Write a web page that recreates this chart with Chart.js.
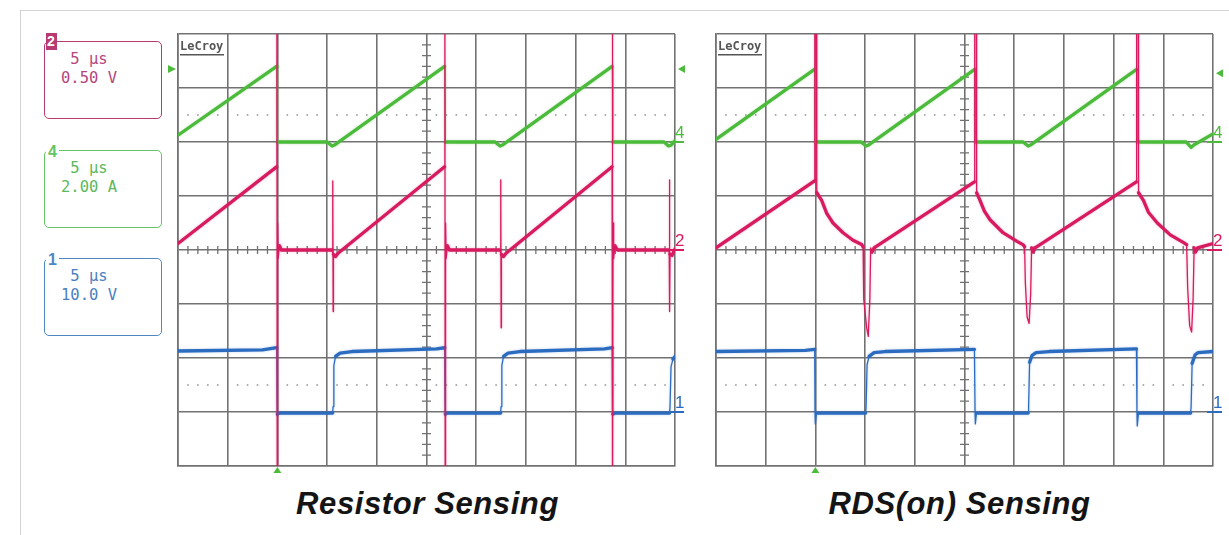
<!DOCTYPE html>
<html>
<head>
<meta charset="utf-8">
<script src="https://cdn.jsdelivr.net/npm/chart.js@4.4.1/dist/chart.umd.min.js"></script>
<style>
  html, body { margin: 0; padding: 0; background: #fff; }
  body { width: 1229px; height: 535px; position: relative; overflow: hidden; }
  #frame { position: absolute; left: 20px; top: 10px; width: 1400px; height: 700px;
           border-left: 1px solid #d2d2d2; border-top: 1px solid #d2d2d2; }
  .panel { position: absolute; top: 0; }
  .chbox { position: absolute; left: 44px; width: 118px; height: 78px; box-sizing: border-box;
           border: 1.5px solid; border-radius: 5px; background: #fff;
           font-family: "DejaVu Sans Mono", monospace; font-size: 15.5px; }
  .chbox .l { position: absolute; left: 0; width: 88px; text-align: center; line-height: 18px; white-space: pre; }
  .chbox .n { position: absolute; font-family: "Liberation Sans", sans-serif; font-weight: bold;
              font-size: 15px; line-height: 16px; text-align: center; }
  .title { position: absolute; top: 488px; width: 497px; text-align: center;
           font: italic bold 31px "Liberation Sans", Arial, sans-serif; line-height: 31px;
           color: #141414; letter-spacing: 0.6px; white-space: nowrap; }
</style>
</head>
<body>
<div id="frame"></div>
<div id="legend"></div>
<canvas id="c1" class="panel" width="550" height="480" style="left:150px"></canvas>
<canvas id="c2" class="panel" width="529" height="480" style="left:700px"></canvas>
<div class="title" id="t1" style="left:179px"></div>
<div class="title" id="t2" style="left:711px"></div>
<script>
// ---- channel settings (scope vertical setup) ----
const chNumbers   = [2, 4, 1];
const chTimeDiv   = ['5 µs', '5 µs', '5 µs'];
const chScaleText = ['0.50 V', '2.00 A', '10.0 V'];
const chPerDiv    = [0.5, 2, 10];     // units per division
const chGroundDiv = [0, 2, -3];       // ground marker position, divisions from centre
const panelTitles = ['Resistor Sensing', 'RDS(on) Sensing'];
const triggerTimes  = [10, 10];       // µs
const triggerLevels = [2.7, 2.55];    // A, channel 4

// ---- Resistor sensing captures: [time µs, value] ----
const resistorCh4 = [ // A
  [0, 0.25], [9.92, 2.80], [9.97, 2.80], [10.00, 0.00], [15.00, 0.00], [15.50, -0.15], [15.80, -0.10],
  [26.82, 2.80], [26.86, 2.80], [26.90, 0.00], [31.90, 0.00], [32.40, -0.15], [32.70, -0.10],
  [43.67, 2.80], [43.71, 2.80], [43.75, 0.00], [48.90, 0.00], [49.35, -0.15], [49.60, -0.12], [50.00, 0.05]
];
const resistorCh2 = [ // V
  [0, 0.06], [9.92, 0.77], [9.95, 2.50], [9.98, -2.50], [10.02, 0.25], [10.08, -0.08], [10.20, 0.04], [10.40, 0.00],
  [15.50, 0.00], [15.56, -0.03], [15.58, 0.64], [15.61, -0.57], [15.64, -0.04], [15.85, -0.06], [16.10, -0.03],
  [26.82, 0.77], [26.85, 2.50], [26.88, -2.50], [26.92, 0.25], [26.98, -0.08], [27.10, 0.04], [27.30, 0.00],
  [32.40, 0.00], [32.46, -0.03], [32.48, 0.65], [32.51, -0.72], [32.54, -0.04], [32.75, -0.06], [33.00, -0.03],
  [43.67, 0.77], [43.70, 2.50], [43.73, -2.50], [43.77, 0.25], [43.83, -0.08], [43.95, 0.04], [44.20, 0.00],
  [49.35, 0.00], [49.42, -0.03], [49.44, 0.65], [49.47, -0.57], [49.50, -0.04], [49.70, -0.05], [50.00, 0.01]
];
const resistorCh1 = [ // V
  [0, 11.3], [8.50, 11.5], [9.94, 11.9], [9.97, 3.0], [9.99, -0.4], [10.20, -0.2], [15.56, -0.2],
  [15.60, 1.0], [15.68, 8.6], [15.85, 10.3], [16.30, 10.9], [17.50, 11.2], [26.00, 11.7], [26.84, 11.9],
  [26.87, 3.0], [26.89, -0.4], [27.10, -0.2], [32.46, -0.2], [32.50, 1.0], [32.58, 8.6], [32.75, 10.3],
  [33.20, 10.9], [34.40, 11.2], [42.90, 11.7], [43.69, 11.9], [43.72, 3.0], [43.74, -0.4], [44.00, -0.2],
  [49.45, -0.2], [49.50, 1.0], [49.60, 8.4], [49.80, 9.8], [50.00, 10.3]
];

// ---- RDS(on) sensing captures: [time µs, value] ----
const rdsCh4 = [ // A
  [0, 0.10], [9.90, 2.69], [9.96, 2.69], [10.00, 0.00], [14.60, 0.00], [15.10, -0.15], [15.40, -0.10],
  [26.02, 2.69], [26.06, 2.69], [26.10, 0.00], [30.90, 0.00], [31.40, -0.15], [31.70, -0.10],
  [42.31, 2.69], [42.35, 2.69], [42.39, 0.00], [47.30, 0.00], [47.80, -0.20], [48.10, -0.10], [50.00, 0.30]
];
const rdsCh2 = [ // V
  [0, 0.02], [9.92, 0.64], [9.94, 2.40], [10.10, 2.40], [10.14, 0.53], [10.63, 0.46], [11.14, 0.34],
  [11.77, 0.25], [12.78, 0.16], [13.78, 0.09], [14.66, 0.05], [14.80, 0.03], [14.86, -0.45], [15.16, -0.72],
  [15.32, -0.80], [15.48, -0.45], [15.56, 0.02], [15.70, -0.02], [15.90, 0.02],
  [26.00, 0.63], [26.03, 2.40], [26.18, 2.40], [26.22, 0.53], [26.56, 0.46], [27.00, 0.36], [27.57, 0.28],
  [28.87, 0.16], [30.28, 0.08], [30.88, 0.05], [31.05, 0.03], [31.12, -0.30], [31.30, -0.62], [31.50, -0.68],
  [31.66, -0.40], [31.75, 0.02], [31.90, -0.02], [32.10, 0.02],
  [42.29, 0.63], [42.32, 2.40], [42.47, 2.40], [42.51, 0.53], [43.00, 0.46], [43.50, 0.35], [44.40, 0.25],
  [45.70, 0.14], [47.00, 0.07], [47.35, 0.05], [47.45, -0.35], [47.65, -0.70], [47.85, -0.76], [48.00, -0.45],
  [48.10, 0.02], [48.25, -0.02], [48.45, 0.02], [50.00, 0.06]
];
const rdsCh1 = [ // V
  [0, 11.2], [9.00, 11.4], [9.93, 11.6], [9.96, 0.0], [9.99, -2.2], [10.10, -0.2], [15.05, -0.2],
  [15.10, 1.0], [15.20, 8.8], [15.40, 10.3], [15.90, 11.0], [17.00, 11.2], [26.00, 11.6],
  [26.06, 0.0], [26.09, -2.2], [26.20, -0.2], [31.40, -0.2], [31.45, 1.0], [31.55, 9.2], [31.80, 10.5],
  [32.20, 11.0], [33.50, 11.2], [42.30, 11.7], [42.35, 0.0], [42.38, -2.6], [42.50, -0.2], [47.75, -0.2],
  [47.80, 1.0], [47.90, 9.0], [48.20, 10.6], [48.50, 11.0], [50.00, 11.2]
];

// ---- styling ----
const GRID = '#727272';
const traceColor = { 2: '#d81b60', 4: '#4cbb3c', 1: '#2c6cc0' };
const haloColor  = { 2: 'rgba(216,27,96,0.30)', 4: 'rgba(76,187,60,0.30)', 1: 'rgba(44,108,192,0.30)' };
const boxBorder  = { 2: '#b83a72', 4: '#66c466', 1: '#4f86c4' };
const boxText    = { 2: '#b5467e', 4: '#5cb85c', 1: '#4a7fbf' };
const boxTop     = { 2: 41, 4: 150, 1: 258 };

// channel info boxes on the left
const legend = document.getElementById('legend');
chNumbers.forEach((n, i) => {
  const b = document.createElement('div');
  b.className = 'chbox';
  b.style.top = boxTop[n] + 'px';
  b.style.borderColor = boxBorder[n];
  b.style.color = boxText[n];
  const l1 = document.createElement('div'); l1.className = 'l'; l1.style.top = '8px'; l1.textContent = chTimeDiv[i];
  const l2 = document.createElement('div'); l2.className = 'l'; l2.style.top = '27px'; l2.textContent = chScaleText[i];
  const nb = document.createElement('div'); nb.className = 'n'; nb.textContent = String(n);
  if (n === 2) {
    Object.assign(nb.style, { left: '0.5px', top: '-9.5px', width: '11px', height: '17px', lineHeight: '17px',
      background: boxBorder[n], color: '#fff', fontSize: '14px' });
  } else {
    Object.assign(nb.style, { left: '1px', top: '-7px', width: '13px', height: '16px',
      background: '#fff', color: boxBorder[n], fontSize: '16px' });
  }
  b.append(l1, l2, nb);
  legend.appendChild(b);
});
document.getElementById('t1').textContent = panelTitles[0];
document.getElementById('t2').textContent = panelTitles[1];

// graticule extras, markers and labels
const scopeExtras = {
  id: 'scopeExtras',
  beforeDatasetsDraw(chart, args, opts) {
    const { ctx, chartArea: a, scales } = chart;
    const x = scales.x, d = scales.div;
    const y0 = d.getPixelForValue(0);
    const xc = x.getPixelForValue(25);
    ctx.save();
    ctx.strokeStyle = GRID;
    ctx.lineWidth = 1.3;
    ctx.beginPath();
    for (let t = 1; t < 50; t++) {
      if (t % 5 === 0) continue;
      const px = x.getPixelForValue(t);
      ctx.moveTo(px, y0 - 4); ctx.lineTo(px, y0 + 4);
    }
    for (let k = -19; k <= 19; k++) {
      if (k % 5 === 0) continue;
      const py = d.getPixelForValue(k / 5);
      ctx.moveTo(xc - 4.5, py); ctx.lineTo(xc + 4.5, py);
    }
    ctx.stroke();
    ctx.fillStyle = '#9a9a9a';
    for (const lv of [2.5, -2.5]) {
      const py = d.getPixelForValue(lv);
      for (let t = 1; t < 50; t++) {
        if (t % 5 === 0) continue;
        const px = x.getPixelForValue(t);
        ctx.fillRect(px - 0.8, py - 0.8, 1.6, 1.6);
      }
    }
    ctx.fillStyle = '#555';
    ctx.font = 'bold 12px "DejaVu Sans Mono", monospace';
    ctx.textBaseline = 'alphabetic';
    ctx.fillText('LeCroy', a.left + 2, a.top + 16);
    ctx.fillRect(a.left + 2, a.top + 20, 44, 1.5);
    ctx.restore();
  },
  beforeDatasetDraw(chart, args) {
    const ds = chart.data.datasets[args.index];
    chart.ctx.save();
    chart.ctx.shadowColor = ds.halo;
    chart.ctx.shadowBlur = 2.5;
  },
  afterDatasetDraw(chart) {
    chart.ctx.restore();
  },
  afterDraw(chart, args, opts) {
    const { ctx, chartArea: a, scales } = chart;
    ctx.save();
    // channel ground markers with channel numbers
    chNumbers.forEach(n => {
      const gy = scales['y' + n].getPixelForValue(0);
      ctx.strokeStyle = traceColor[n];
      ctx.lineWidth = 2;
      ctx.beginPath(); ctx.moveTo(a.right - 6, gy); ctx.lineTo(a.right + 9, gy); ctx.stroke();
      ctx.fillStyle = traceColor[n];
      ctx.font = '17px "Liberation Sans Narrow", "Liberation Sans", sans-serif';
      ctx.textBaseline = 'alphabetic';
      ctx.fillText(String(n), a.right, gy - 4);
    });
    // trigger level (channel 4) and trigger position
    const ty = scales.y4.getPixelForValue(opts.trigLevel);
    ctx.fillStyle = '#4cbb3c';
    ctx.beginPath();
    ctx.moveTo(a.right + 10, ty - 4); ctx.lineTo(a.right + 3, ty); ctx.lineTo(a.right + 10, ty + 4); ctx.closePath(); ctx.fill();
    if (opts.leftArrow) {
      ctx.beginPath();
      ctx.moveTo(a.left - 10, ty - 4); ctx.lineTo(a.left - 2, ty); ctx.lineTo(a.left - 10, ty + 4); ctx.closePath(); ctx.fill();
    }
    const tx = scales.x.getPixelForValue(opts.trigTime);
    ctx.beginPath();
    ctx.moveTo(tx - 4, a.bottom + 7); ctx.lineTo(tx, a.bottom + 1); ctx.lineTo(tx + 4, a.bottom + 7); ctx.closePath(); ctx.fill();
    ctx.restore();
  }
};

// steep edges are drawn thin, slow ramps and flats thick (trace noise)
function traceWidth(c) {
  const dx = Math.abs(c.p1.x - c.p0.x), dy = Math.abs(c.p1.y - c.p0.y);
  return dy > 3 * dx ? 1.3 : 3.3;
}

function scopeChart(canvasId, series, pad, idx) {
  const toXY = arr => arr.map(([x, y]) => ({ x, y }));
  const gridOpts = { color: GRID, lineWidth: 1.6, drawTicks: false };
  const scales = {
    x:   { type: 'linear', position: 'bottom', min: 0, max: 50,
           ticks: { display: false, stepSize: 5 }, grid: gridOpts, border: { color: GRID, width: 1.6 } },
    div: { type: 'linear', position: 'left', min: -4, max: 4,
           ticks: { display: false, stepSize: 1 }, grid: gridOpts, border: { color: GRID, width: 1.6 } }
  };
  chNumbers.forEach((n, i) => {
    scales['y' + n] = { type: 'linear', display: false,
      min: (-4 - chGroundDiv[i]) * chPerDiv[i], max: (4 - chGroundDiv[i]) * chPerDiv[i] };
  });
  const datasets = chNumbers.map((n, i) => ({
    label: 'CH' + n,
    data: toXY(series[i]),
    yAxisID: 'y' + n,
    borderColor: traceColor[n],
    halo: haloColor[n],
    borderWidth: 3,
    pointRadius: 0,
    tension: 0,
    borderJoinStyle: 'round',
    borderCapStyle: 'round',
    segment: { borderWidth: traceWidth }
  }));
  return new Chart(document.getElementById(canvasId), {
    type: 'line',
    data: { datasets },
    options: {
      responsive: false,
      devicePixelRatio: 1,
      animation: false,
      events: [],
      layout: { padding: pad },
      scales,
      plugins: {
        legend: { display: false },
        tooltip: { enabled: false },
        scopeExtras: { trigTime: triggerTimes[idx], trigLevel: triggerLevels[idx], leftArrow: idx === 0 }
      }
    },
    plugins: [scopeExtras]
  });
}

scopeChart('c1', [resistorCh2, resistorCh4, resistorCh1], { left: 28, right: 25, top: 34, bottom: 14 }, 0);
scopeChart('c2', [rdsCh2, rdsCh4, rdsCh1], { left: 16, right: 16, top: 34, bottom: 14 }, 1);
</script>
</body>
</html>
